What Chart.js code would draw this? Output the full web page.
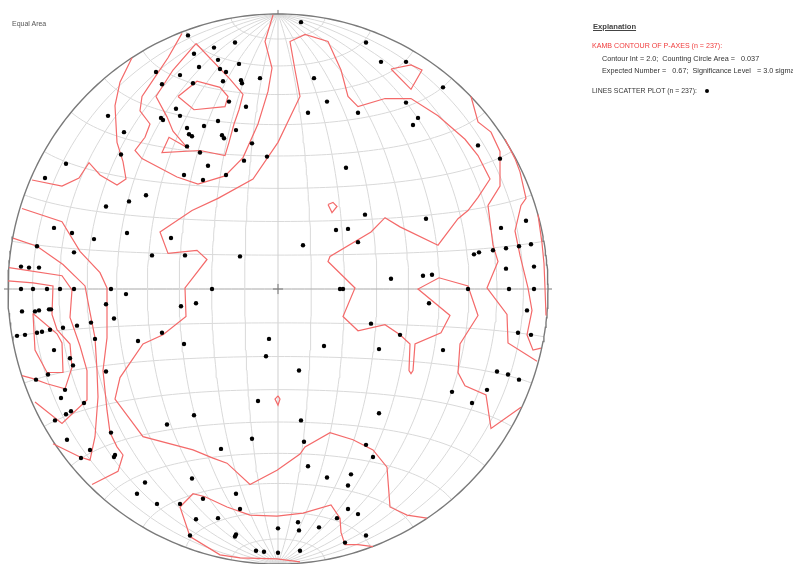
<!DOCTYPE html>
<html>
<head>
<meta charset="utf-8">
<script src="https://cdn.jsdelivr.net/npm/chart.js@4/dist/chart.umd.min.js"></script>
<style>
    html, body { margin: 0; padding: 0; background: #fff; overflow: hidden; }
    #wrap { position: relative; width: 793px; height: 568px; }
    .txt { position: absolute; font-family: 'Liberation Sans', Arial, sans-serif; line-height: 1; white-space: pre; color: #333; }
</style>
</head>
<body>
<div id="wrap">
    <canvas id="net" width="793" height="568"></canvas>
    <div class="txt" style="left:12px; top:20px; font-size:7px; color:#555;">Equal Area</div>
    <div class="txt" style="left:593px; top:23px; font-size:7.6px; font-weight:bold; color:#444; text-decoration:underline;">Explanation</div>
    <div class="txt" style="left:592px; top:43px; font-size:7.1px; color:#f03c3c;">KAMB CONTOUR OF P-AXES (n = 237):</div>
    <div class="txt" style="left:602px; top:55px; font-size:7.25px;">Contour Int = 2.0;  Counting Circle Area =   0.037</div>
    <div class="txt" style="left:602px; top:67px; font-size:7.25px;">Expected Number =   0.67;  Significance Level   = 3.0 sigma</div>
    <div class="txt" style="left:592px; top:88px; font-size:6.9px;">LINES SCATTER PLOT (n = 237):</div>
    <div style="position:absolute; left:705px; top:89px; width:4px; height:4px; border-radius:50%; background:#000;"></div>
</div>
<script>
// net radius in data units (primitive circle)
const NET_RADIUS = 270;

// P-axes, projected position on the net (x east, y north)
const pAxes = [
    [-90,249], [-64,237], [-43,242], [-84,231], [-60,225], [-39,221], [-79,218], [-58,216],
    [-52,213], [-122,213], [-98,210], [-37,205], [-36,202], [-18,207], [-116,201], [-85,202],
    [-55,204], [-49,184], [-32,179], [-102,177], [-98,170], [-170,170], [-117,168], [-115,166],
    [-60,165], [-74,160], [-91,158], [-154,154], [-89,152], [-86,150], [-56,151], [-54,148],
    [-42,156], [-26,143], [-91,140], [-78,134], [-157,132], [-11,130], [-34,126], [-212,123],
    [-70,121], [-94,112], [-52,112], [-75,107], [-233,109], [-132,92], [-149,86], [-172,81],
    [-224,60], [-206,55], [-184,49], [-151,55], [-107,50], [-241,42], [-204,36], [-126,33],
    [-93,33], [-38,32], [-257,22], [-249,21], [-239,21],
    [23,262], [88,242], [103,223], [128,223], [36,207], [165,198], [49,184], [128,183],
    [30,173], [80,173], [140,168], [135,161], [200,141], [222,128], [68,119], [248,67],
    [87,73], [148,69], [223,60], [58,58], [70,59], [80,46], [25,43], [253,44],
    [241,42], [228,40], [215,38], [201,36], [196,34], [256,22], [228,20], [113,10],
    [145,13], [154,14],
    [-257,0], [-245,0], [-231,0], [-218,0], [-204,0], [-167,0], [-152,-5], [-172,-15],
    [-256,-22], [-243,-22], [-239,-21], [-229,-20], [-227,-20], [-164,-29], [-187,-33], [-201,-36],
    [-215,-38], [-228,-40], [-236,-42], [-241,-43], [-253,-45], [-261,-46], [-183,-49], [-224,-60],
    [-208,-68], [-205,-75], [-172,-81], [-230,-84], [-242,-89], [-213,-99], [-217,-107], [-194,-112],
    [-207,-120], [-212,-123], [-223,-129], [-167,-141], [-211,-148], [-188,-158], [-197,-166], [-163,-163],
    [-164,-165], [-97,-17], [-82,-14], [-116,-43], [-140,-51], [-94,-54], [-66,0], [-9,-49],
    [-12,-66], [-20,-110], [-84,-124], [-111,-133], [-26,-147], [-57,-157], [-86,-186], [-133,-190],
    [-141,-201], [-42,-201], [-121,-211], [-98,-211], [-75,-206], [-38,-216], [-60,-225], [-82,-226],
    [-88,-242], [-42,-241], [-43,-243], [-22,-257], [-14,-258], [0,-259],
    [62,0], [65,0], [190,0], [231,0], [256,0], [151,-14], [249,-21], [93,-34],
    [122,-45], [240,-43], [253,-45], [46,-56], [101,-59], [165,-60], [21,-80], [219,-81],
    [230,-84], [241,-89], [174,-101], [209,-99], [194,-112], [101,-122], [23,-129], [26,-150],
    [88,-153], [95,-165], [30,-174], [49,-185], [73,-182], [70,-193], [70,-216], [80,-221],
    [59,-225], [20,-229], [21,-237], [41,-234], [0,-235], [88,-242], [67,-249], [22,-257],
];

// Kamb contour lines (net coordinates)
const contourMain = [
    [243,-116], [213,-137], [208,-104], [187,-95], [180,-82], [182,-54], [200,-26], [190,3],
    [161,11], [140,0], [172,-26], [163,-43], [137,-54], [135,-80], [133,-83], [131,-80],
    [132,-54], [122,-45], [107,-35], [80,-41], [65,-27], [77,1], [50,27], [52,32],
    [93,56], [107,70], [122,61], [160,43], [180,69], [190,77], [200,90], [212,108],
    [200,131], [187,147], [160,170], [133,187], [107,187], [80,179], [70,189], [63,215],
    [50,243], [27,250], [12,243], [17,215], [22,189], [0,144], [-25,108], [-60,89],
    [-86,77], [-118,56], [-110,35], [-81,38], [-71,29], [-93,1], [-92,-27], [-115,-45],
    [-135,-54], [-158,-87], [-163,-108], [-135,-145], [-85,-158], [-65,-166], [-51,-171], [-28,-192],
    [-1,-178], [22,-162], [27,-155], [52,-141], [75,-148], [95,-158], [109,-175], [112,-214],
    [129,-222], [149,-225],
];
const contourNW1 = [
    [-146,227], [-158,203], [-163,180], [-161,144], [-155,125], [-152,108], [-161,102], [-178,112],
    [-189,124], [-199,109], [-216,101], [-246,107],
];
const contourNW2 = [
    [-96,251], [-110,227], [-121,211], [-136,189], [-138,175], [-128,162], [-133,149], [-143,136],
    [-136,128], [-101,110], [-80,103], [-53,111], [-35,129], [-20,162], [-10,194], [-6,217],
    [-13,243], [-5,269],
];
const contourNW3 = [
    [-82,241], [-105,215], [-122,189], [-111,169], [-105,155], [-91,139], [-109,149], [-116,134],
    [-78,136], [-53,131], [-49,144], [-44,162], [-39,176], [-35,191], [-48,206], [-82,241],
];
const contourNW4 = [
    [-100,189], [-81,204], [-58,198], [-50,189], [-53,179], [-84,176], [-100,189],
];
const contourW1 = [
    [-256,79], [-216,66], [-198,37], [-178,16], [-171,1], [-171,-48], [-175,-80], [-171,-119],
    [-168,-141], [-161,-155], [-155,-163], [-160,-179], [-186,-192],
];
const contourW2 = [
    [-265,50], [-241,42], [-215,24], [-193,3], [-188,-23], [-183,-48], [-181,-80], [-180,-106],
    [-183,-145], [-188,-168], [-198,-165], [-225,-152],
];
const contourW3 = [
    [-269,21], [-216,13], [-206,-1], [-208,-28], [-198,-56], [-191,-80], [-191,-109], [-216,-132],
    [-243,-111],
];
const contourW4 = [
    [-270,8], [-245,6], [-225,3], [-226,-25], [-221,-40], [-208,-54], [-206,-77], [-213,-98],
    [-231,-93], [-245,-88], [-256,-85],
];
const contourW5 = [
    [-245,-24], [-221,-44], [-216,-53], [-215,-82], [-231,-82], [-243,-60], [-245,-24],
];
const contourE1 = [
    [193,189], [200,164], [213,154], [222,135], [222,101], [210,82], [215,43], [220,27],
    [209,1], [229,-25], [230,-53], [259,-71],
];
const contourE2 = [
    [227,147], [237,128], [242,115], [248,89], [243,82], [237,57], [242,33], [250,1],
    [254,-21], [249,-45], [255,-60], [263,-58],
];
const contourE3 = [
    [260,73], [264,45], [266,25], [267,1], [268,-26],
];
const contourNE = [
    [113,216], [133,220], [144,215], [133,196], [113,216],
];
const contourSmall1 = [
    [50,83], [55,85], [59,81], [54,75], [50,83],
];
const contourSmall2 = [
    [0,-105], [2,-108], [0,-114], [-3,-108], [0,-105],
];
const contourS = [
    [95,-253], [80,-251], [67,-251], [63,-239], [62,-225], [53,-212], [25,-220], [-1,-223],
    [-28,-222], [-51,-214], [-73,-204], [-85,-201], [-98,-214], [-88,-243], [-58,-261], [-38,-264],
    [-1,-265], [22,-268],
];

const contours = [
    contourMain, contourNW1, contourNW2, contourNW3, contourNW4,
    contourW1, contourW2, contourW3, contourW4, contourW5,
    contourE1, contourE2, contourE3, contourNE, contourSmall1, contourSmall2, contourS,
];

// equal-area (Schmidt) projection of a point given by net longitude / latitude
function netPoint(lon, lat) {
    const l = lon * Math.PI / 180;
    const p = lat * Math.PI / 180;
    const X = Math.cos(p) * Math.sin(l);
    const Y = Math.sin(p);
    const Z = Math.cos(p) * Math.cos(l);
    const k = NET_RADIUS / Math.sqrt(1 + Z);
    return { x: X * k, y: Y * k };
}

function lineSet(data, color, width, order) {
    return {
        type: 'scatter',
        data: data,
        showLine: true,
        borderColor: color,
        borderWidth: width,
        pointRadius: 0,
        fill: false,
        tension: 0,
        clip: false,
        order: order,
    };
}

const datasets = [];

// meridians and parallels every 10 degrees
for (let a = -80; a <= 80; a += 10) {
    const meridian = [];
    const parallel = [];
    for (let t = -90; t <= 90; t += 2) {
        meridian.push(netPoint(a, t));
        parallel.push(netPoint(t, a));
    }
    datasets.push(lineSet(meridian, a === 0 ? '#cfcfcf' : '#d9d9d9', 1, 5));
    datasets.push(lineSet(parallel, a === 0 ? '#a8a8a8' : '#d9d9d9', 1, 5));
}

// primitive circle
const primitive = [];
for (let t = 0; t <= 360; t += 1) {
    const r = t * Math.PI / 180;
    primitive.push({ x: NET_RADIUS * Math.cos(r), y: NET_RADIUS * Math.sin(r) });
}
datasets.push(lineSet(primitive, '#7a7a7a', 1.4, 3));

// cardinal ticks and centre cross
const ticks = [
    { x: -NET_RADIUS - 4, y: 0 }, { x: -NET_RADIUS, y: 0 }, { x: null, y: null },
    { x: NET_RADIUS, y: 0 }, { x: NET_RADIUS + 4, y: 0 }, { x: null, y: null },
    { x: 0, y: NET_RADIUS }, { x: 0, y: NET_RADIUS + 4 }, { x: null, y: null },
    { x: -5, y: 0 }, { x: 5, y: 0 }, { x: null, y: null },
    { x: 0, y: -5 }, { x: 0, y: 5 },
];
datasets.push(lineSet(ticks, '#777', 1, 3));

contours.forEach((c) => {
    datasets.push(lineSet(c.map((p) => ({ x: p[0], y: p[1] })), '#f46a6a', 1.2, 2));
});

datasets.push({
    type: 'scatter',
    data: pAxes.map((p) => ({ x: p[0], y: p[1] })),
    pointRadius: 2.2,
    pointBackgroundColor: '#000',
    pointBorderWidth: 0,
    clip: false,
    order: 1,
});

new Chart(document.getElementById('net'), {
    type: 'scatter',
    data: { datasets: datasets },
    options: {
        responsive: false,
        animation: false,
        events: [],
        layout: { padding: { left: 8, right: 245, top: 14, bottom: 0 } },
        scales: {
            x: { type: 'linear', min: -NET_RADIUS, max: NET_RADIUS, display: false },
            y: { type: 'linear', min: -NET_RADIUS, max: NET_RADIUS, display: false },
        },
        plugins: {
            legend: { display: false },
            tooltip: { enabled: false },
        },
    },
});
</script>
</body>
</html>
